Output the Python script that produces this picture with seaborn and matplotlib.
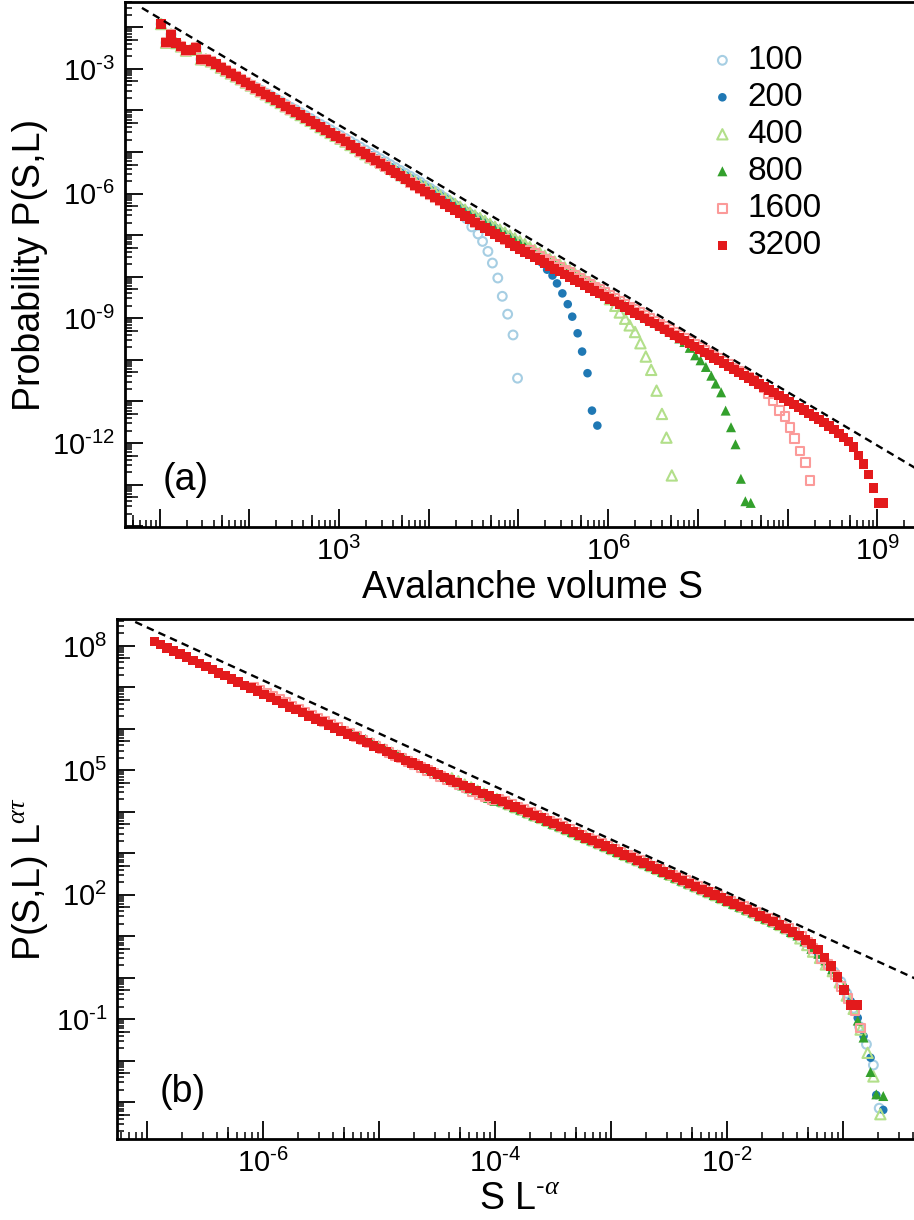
import numpy as np
import pandas as pd
import matplotlib
matplotlib.use("Agg")
import matplotlib.pyplot as plt
import seaborn as sns
from matplotlib.ticker import FixedLocator, FuncFormatter, LogLocator, NullFormatter, NullLocator

# ---------------- data (log10 values) ----------------
sizes_L = [100, 200, 400, 800, 1600, 3200]
L_REF = 3200

# logarithmic binning of avalanche volume S (bin centres, decades)
LOG_S0 = 1.016
BIN = 1.0 / 18.0

# largest system (L = 3200), log10 P per bin -- fully visible in panel (a)
master_logP = [
    -1.92, -2.37, -2.17, -2.38, -2.46, -2.56, -2.54, -2.49, -2.77, -2.77,
    -2.82, -2.88, -2.97, -3.04, -3.11, -3.18, -3.25, -3.33, -3.40, -3.47,
    -3.54, -3.61, -3.68, -3.75, -3.82, -3.90, -3.97, -4.04, -4.11, -4.18,
    -4.25, -4.32, -4.40, -4.47, -4.54, -4.61, -4.68, -4.75, -4.83, -4.90,
    -4.98, -5.05, -5.13, -5.20, -5.28, -5.35, -5.43, -5.50, -5.58, -5.65,
    -5.73, -5.80, -5.87, -5.95, -6.02, -6.10, -6.17, -6.25, -6.32, -6.39,
    -6.47, -6.54, -6.61, -6.69, -6.76, -6.83, -6.90, -6.97, -7.04, -7.11,
    -7.19, -7.26, -7.33, -7.40, -7.47, -7.54, -7.60, -7.67, -7.74, -7.81,
    -7.88, -7.95, -8.01, -8.08, -8.14, -8.21, -8.27, -8.34, -8.40, -8.47,
    -8.53, -8.60, -8.67, -8.73, -8.80, -8.87, -8.93, -9.00, -9.07, -9.13,
    -9.20, -9.27, -9.34, -9.41, -9.47, -9.54, -9.61, -9.68, -9.75, -9.82,
    -9.88, -9.95, -10.02, -10.09, -10.16, -10.23, -10.30, -10.37, -10.44, -10.51,
    -10.58, -10.65, -10.72, -10.79, -10.86, -10.93, -11.00, -11.07, -11.14, -11.21,
    -11.29, -11.36, -11.43, -11.51, -11.59, -11.68, -11.77, -11.87, -11.97, -12.10,
    -12.30, -12.50, -12.76, -13.08, -13.44, -13.44,
]

# number of bins of each size that lie hidden beneath the L = 3200 points
# before the visible cutoff tail
bulk_count = {100: 60, 200: 75, 400: 90, 800: 105, 1600: 121, 3200: 146}

# visible cutoff tails
tail_logS_100 = [4.37, 4.42, 4.48, 4.55, 4.60, 4.66, 4.71, 4.77, 4.82, 4.88, 4.94, 4.99]
tail_logP_100 = [-6.45, -6.60, -6.80, -6.97, -7.15, -7.39, -7.67, -8.03, -8.47, -8.90, -9.40, -10.44]

tail_logS_200 = [5.20, 5.26, 5.32, 5.38, 5.43, 5.49, 5.55, 5.60, 5.66, 5.71, 5.77, 5.82, 5.88]
tail_logP_200 = [-7.50, -7.66, -7.83, -7.97, -8.16, -8.40, -8.66, -8.96, -9.36, -9.80, -10.32, -11.22, -11.58]

tail_logS_400 = [6.02, 6.08, 6.13, 6.19, 6.24, 6.30, 6.36, 6.42, 6.48, 6.54, 6.60, 6.65, 6.71]
tail_logP_400 = [-8.54, -8.70, -8.86, -9.01, -9.17, -9.33, -9.60, -9.92, -10.24, -10.74, -11.30, -11.87, -12.78]

tail_logS_800 = [6.85, 6.91, 6.97, 7.03, 7.09, 7.15, 7.20, 7.26, 7.31, 7.37, 7.42, 7.48, 7.53, 7.59]
tail_logP_800 = [-9.57, -9.71, -9.89, -10.01, -10.17, -10.38, -10.57, -10.78, -11.22, -11.62, -12.03, -12.86, -13.40, -13.44]

tail_logS_1600 = [7.74, 7.79, 7.84, 7.91, 7.97, 8.03, 8.08, 8.14, 8.20, 8.25]
tail_logP_1600 = [-10.68, -10.82, -10.98, -11.22, -11.36, -11.62, -11.89, -12.19, -12.47, -12.90]

tail_logS_3200 = []
tail_logP_3200 = []

# scaling exponents of the data collapse in panel (b)
ALPHA = 2.84
TAU = 1.284
S_MIN_COLLAPSE = 1.0e3
# hidden points with log10(S L^-alpha) above this follow the collapse of panel (b);
# below it they coincide with the L = 3200 points of panel (a)
X_SWITCH = -4.0

# dashed power-law guides
guide_a_logS = [0.803, 9.45]
guide_a_logP = [-1.532, -12.635]
guide_b_logx = [-7.103, -0.38]
guide_b_logy = [8.579, -0.02]

legend_labels = ["100", "200", "400", "800", "1600", "3200"]

# ---------------- build table ----------------
tails = {
    100: (tail_logS_100, tail_logP_100),
    200: (tail_logS_200, tail_logP_200),
    400: (tail_logS_400, tail_logP_400),
    800: (tail_logS_800, tail_logP_800),
    1600: (tail_logS_1600, tail_logP_1600),
    3200: (tail_logS_3200, tail_logP_3200),
}
master_arr = np.asarray(master_logP, float)
master_logS = LOG_S0 + BIN * np.arange(len(master_arr))
frames = []
for L in sizes_L:
    n = bulk_count[L]
    idx = np.arange(n)
    dlog = ALPHA * np.log10(L_REF / L)
    k0 = int(round(dlog / BIN))
    collapsed = master_arr[k0 + idx] + TAU * dlog
    same = master_arr[idx]
    use_collapse = master_logS[idx] - ALPHA * np.log10(L) >= X_SWITCH
    bulk_logP = np.where(use_collapse, collapsed, same)
    ls = np.concatenate([master_logS[:n], np.asarray(tails[L][0], float)])
    lp = np.concatenate([bulk_logP, np.asarray(tails[L][1], float)])
    S = 10.0 ** ls
    P = 10.0 ** lp
    frames.append(pd.DataFrame({
        "L": L, "S": S, "P": P,
        "x_scaled": S * L ** (-ALPHA),
        "y_scaled": P * L ** (ALPHA * TAU),
    }))
df = pd.concat(frames, ignore_index=True)

# ---------------- style ----------------
sns.set_theme(style="ticks")
plt.rcParams.update({
    "font.family": ["Liberation Sans", "DejaVu Sans"],
    "mathtext.fontset": "custom",
    "mathtext.rm": "Liberation Sans",
    "mathtext.it": "Liberation Serif:italic",
    "mathtext.default": "regular",
    "axes.linewidth": 2.0,
    "axes.edgecolor": "black",
    "text.color": "black",
    "axes.labelcolor": "black",
    "xtick.color": "black",
    "ytick.color": "black",
})

pal = sns.color_palette("Paired", 6)
colors = dict(zip(sizes_L, pal))
mstyle = {
    100: dict(marker="o", s=40, facecolor="none", linewidth=1.5),
    200: dict(marker="o", s=38, edgecolor="none", linewidth=0),
    400: dict(marker="^", s=55, facecolor="none", linewidth=1.5),
    800: dict(marker="^", s=52, edgecolor="none", linewidth=0),
    1600: dict(marker="s", s=38, facecolor="none", linewidth=1.5),
    3200: dict(marker="s", s=46, edgecolor="none", linewidth=0),
}

fig = plt.figure(figsize=(9.14, 12.2), dpi=100)
ax_a = fig.add_axes([125 / 914, 1 - 527 / 1220, 1 - 125 / 914, 525 / 1220])
ax_b = fig.add_axes([117 / 914, 1 - 1139 / 1220, 1 - 117 / 914, 520 / 1220])

for L, lab in zip(sizes_L, legend_labels):
    sub = df[df["L"] == L]
    st = dict(mstyle[L])
    c = colors[L]
    if st.get("facecolor") == "none":
        st["edgecolor"] = c
    else:
        st["facecolor"] = c
    sns.scatterplot(data=sub, x="S", y="P", ax=ax_a, label=lab, zorder=3, **st)
    subb = sub[sub["S"] >= S_MIN_COLLAPSE]
    sns.scatterplot(data=subb, x="x_scaled", y="y_scaled", ax=ax_b, zorder=3, **st)

dash = (0, (3.2, 2.2))
sns.lineplot(x=10.0 ** np.array(guide_a_logS), y=10.0 ** np.array(guide_a_logP), ax=ax_a,
             color="black", linewidth=1.7, linestyle=dash, sort=False, estimator=None, zorder=4)
sns.lineplot(x=10.0 ** np.array(guide_b_logx), y=10.0 ** np.array(guide_b_logy), ax=ax_b,
             color="black", linewidth=1.7, linestyle=dash, sort=False, estimator=None, zorder=4)


def exp_formatter(step, offset=0):
    def f(v, pos):
        e = int(round(np.log10(v)))
        if (e - offset) % step != 0:
            return ""
        if e < 0:
            return "10$^{\\mathregular{\u2010" + str(-e) + "}}$"
        return "10$^{\\mathregular{" + str(e) + "}}$"
    return FuncFormatter(f)


def setup_axis(ax, xlim, ylim, xdec, ydec, xfmt, yfmt):
    ax.set_xscale("log")
    ax.set_yscale("log")
    ax.set_xlim(*xlim)
    ax.set_ylim(*ylim)
    ax.xaxis.set_major_locator(FixedLocator(10.0 ** np.arange(*xdec)))
    ax.yaxis.set_major_locator(FixedLocator(10.0 ** np.arange(*ydec)))
    ax.xaxis.set_minor_locator(LogLocator(base=10, subs=np.arange(2, 10), numticks=100))
    ax.yaxis.set_minor_locator(LogLocator(base=10, subs=np.arange(2, 10), numticks=100))
    ax.xaxis.set_major_formatter(xfmt)
    ax.yaxis.set_major_formatter(yfmt)
    ax.xaxis.set_minor_formatter(NullFormatter())
    ax.yaxis.set_minor_formatter(NullFormatter())
    ax.tick_params(which="major", direction="in", length=13, width=1.3, labelsize=21, pad=7,
                   top=False, right=False)
    ax.tick_params(which="minor", direction="in", length=5, width=1.1, top=False, right=False)
    ax.spines["right"].set_visible(False)
    # medium ticks at 5 x 10^n
    secx = ax.secondary_xaxis("bottom")
    secx.set_xticks(5.0 * 10.0 ** np.arange(xdec[0] - 1, xdec[1]))
    secx.xaxis.set_minor_locator(NullLocator())
    secx.tick_params(axis="x", which="major", direction="in", length=9, width=1.1,
                     labelbottom=False)
    secx.spines["bottom"].set_visible(False)
    secy = ax.secondary_yaxis("left")
    secy.set_yticks(5.0 * 10.0 ** np.arange(ydec[0] - 1, ydec[1]))
    secy.yaxis.set_minor_locator(NullLocator())
    secy.tick_params(axis="y", which="major", direction="in", length=9, width=1.1,
                     labelleft=False)
    secy.spines["left"].set_visible(False)


setup_axis(ax_a, (10 ** 0.614, 10 ** 9.41), (10 ** -14.02, 10 ** -1.39),
           (1, 10), (-14, -1), exp_formatter(3), exp_formatter(3))
setup_axis(ax_b, (10 ** -7.26, 10 ** -0.39), (10 ** -3.89, 10 ** 8.65),
           (-7, 0), (-3, 9), exp_formatter(2), exp_formatter(3, 2))

ax_a.set_xlabel("Avalanche volume S", fontsize=27)
ax_a.xaxis.set_label_coords(0.516, -0.081)
ax_a.set_ylabel("Probability P(S,L)", fontsize=27, labelpad=3)
ax_b.set_xlabel("S L$^{\\mathregular{\u2010}\\mathit{\\alpha}}$", fontsize=27)
ax_b.xaxis.set_label_coords(0.506, -0.082)
ax_b.set_ylabel("P(S,L) L$^{\\mathit{\\alpha\\tau}}$", fontsize=27, labelpad=4)

ax_a.text(0.048, 0.09, "(a)", transform=ax_a.transAxes, fontsize=27, ha="left", va="center")
ax_b.text(0.054, 0.09, "(b)", transform=ax_b.transAxes, fontsize=27, ha="left", va="center")

handles, labels = ax_a.get_legend_handles_labels()
ax_a.legend(handles, labels, loc="upper left", bbox_to_anchor=(0.736, 0.918), frameon=False,
            fontsize=24, handlelength=1.0, handletextpad=0.25, labelspacing=0.18,
            borderpad=0, borderaxespad=0, markerscale=1.0)

fig.savefig("out.png", dpi=100)
